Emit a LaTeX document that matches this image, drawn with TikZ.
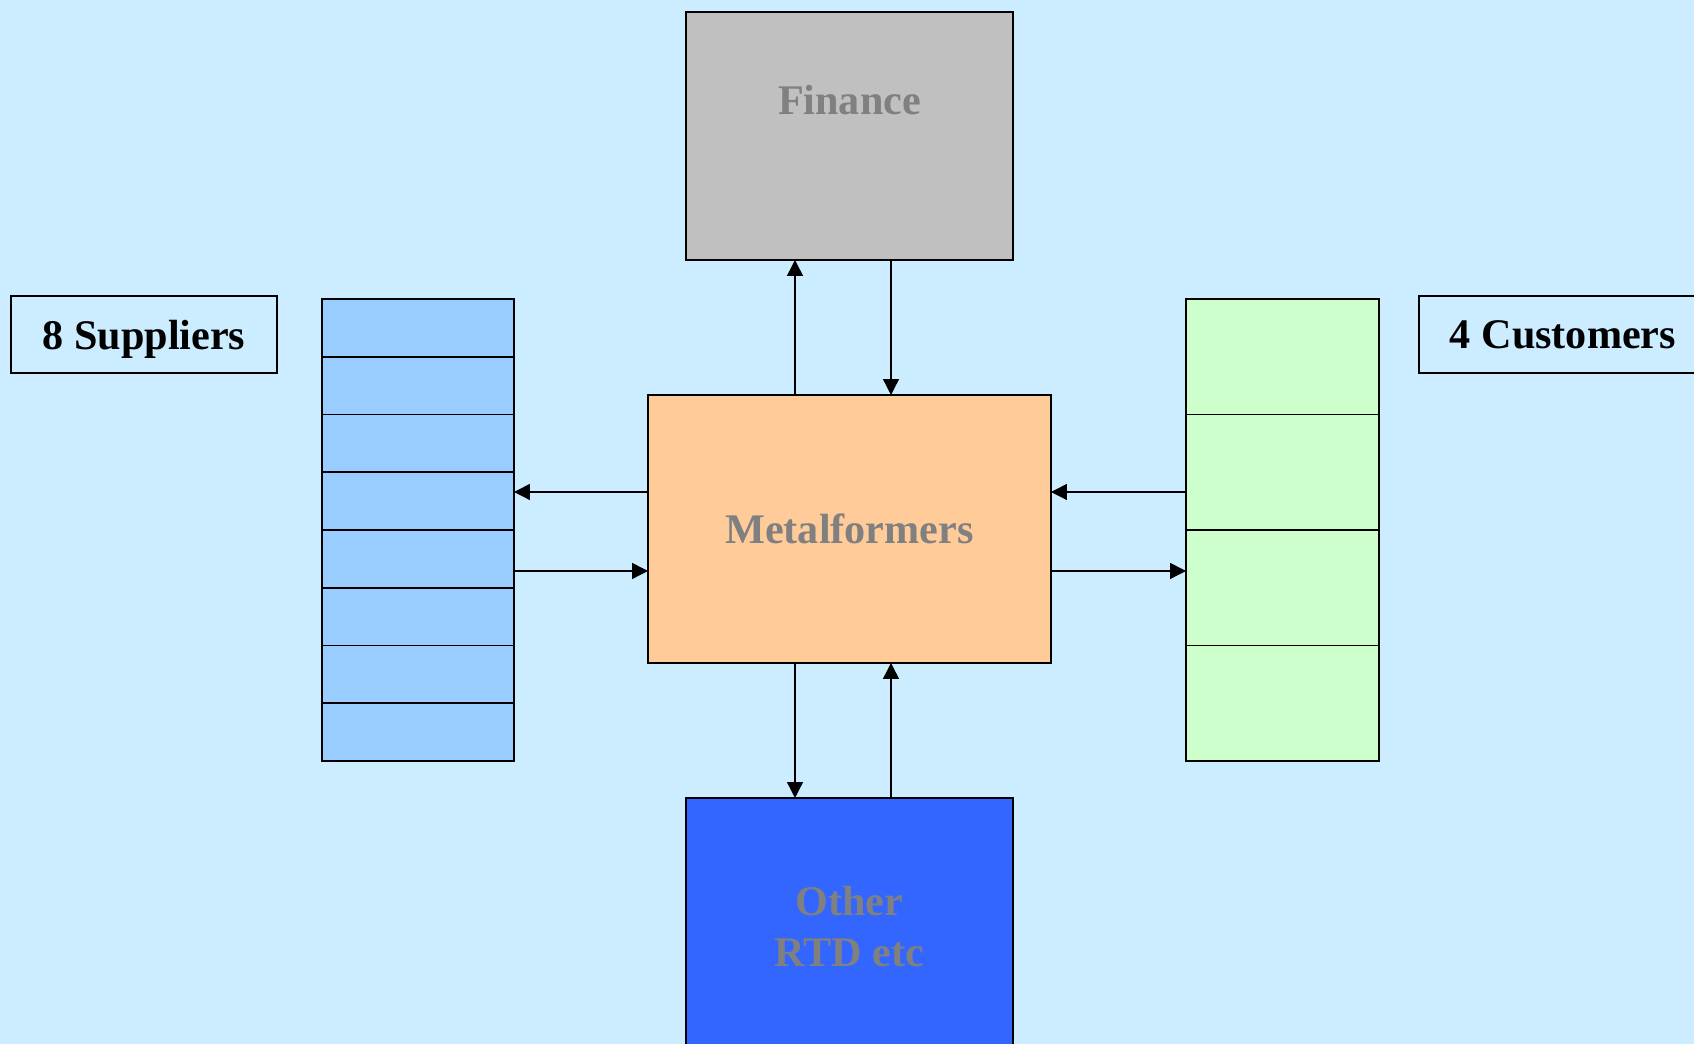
\documentclass[tikz,border=0pt]{standalone}
\usepackage{xcolor}
\usepackage{fontspec}
\setmainfont{Liberation Serif}
\usepackage{tikz}
\usetikzlibrary{arrows.meta,positioning,calc}

\definecolor{bgblue}{RGB}{204,236,255}
\definecolor{supblue}{RGB}{153,204,255}
\definecolor{cusgreen}{RGB}{204,255,204}
\definecolor{metalorange}{RGB}{255,204,153}
\definecolor{fingray}{RGB}{192,192,192}
\definecolor{othblue}{RGB}{51,102,255}
\definecolor{txtgray}{RGB}{128,128,128}

\begin{document}
\begin{tikzpicture}[
    box/.style={rectangle, draw=black, fill=#1, line width=1pt, inner sep=0pt, outer sep=0pt, align=center, font=\fontsize{24}{29}\selectfont\bfseries, text=txtgray},
    tag/.style={rectangle, draw=black, line width=1pt, inner sep=0pt, outer sep=0pt, minimum height=1.54cm, text depth=0pt, font=\fontsize{24}{29}\selectfont\bfseries},
    suprow/.style={rectangle, draw=black, fill=supblue, line width=1pt, inner sep=0pt, outer sep=0pt, minimum width=3.84cm, minimum height=1.155cm},
    cusrow/.style={rectangle, draw=black, fill=cusgreen, line width=1pt, inner sep=0pt, outer sep=0pt, minimum width=3.86cm, minimum height=2.31cm},
    arrow/.style={-{Triangle[length=9pt, width=9pt]}, line width=0.8pt}
]
    % Page
    \clip (0,0) rectangle (33.88,20.88);
    \fill[bgblue] (0,0) rectangle (33.88,20.88);

    % Centre and the two departments
    \node[box=metalorange, minimum width=8.06cm, minimum height=5.36cm] (metal) at (16.99,10.30) {Metalformers};

    \node[box=fingray, minimum width=6.54cm, text height=2.05cm, text depth=2.91cm, above=2.7cm of metal] (fin) {Finance};

    \node[box=othblue, minimum width=6.54cm, minimum height=5.14cm, below=2.7cm of metal] (oth) {Other\\RTD etc};

    % Supplier stack (8 rows)
    \node[suprow] (sup1) at (8.36,14.32) {};
    \foreach \i [remember=\i as \j (initially 1)] in {2,...,8}
        \node[suprow, below=0cm of sup\j] (sup\i) {};

    % Customer stack (4 rows)
    \node[cusrow] (cus1) at (25.65,13.745) {};
    \foreach \i [remember=\i as \j (initially 1)] in {2,...,4}
        \node[cusrow, below=0cm of cus\j] (cus\i) {};

    % Labels
    \node[tag, minimum width=5.32cm] (suptag) at (2.88,14.19) {8 Suppliers};
    \node[tag, minimum width=5.76cm] (custag) at (31.26,14.19) {4 Customers};

    % Arrows
    \draw[arrow] ([xshift=-1.09cm]metal.north) -- ([xshift=-1.09cm]metal.north |- fin.south);
    \draw[arrow] ([xshift=0.83cm]fin.south) -- ([xshift=0.83cm]fin.south |- metal.north);
    \draw[arrow] ([xshift=-1.09cm]metal.south) -- ([xshift=-1.09cm]metal.south |- oth.north);
    \draw[arrow] ([xshift=0.83cm]oth.north) -- ([xshift=0.83cm]oth.north |- metal.south);
    \draw[arrow] ([yshift=0.74cm]metal.west) -- ([yshift=0.74cm]metal.west -| sup1.east);
    \draw[arrow] ([yshift=-0.84cm]metal.west -| sup1.east) -- ([yshift=-0.84cm]metal.west);
    \draw[arrow] ([yshift=0.74cm]metal.east -| cus1.west) -- ([yshift=0.74cm]metal.east);
    \draw[arrow] ([yshift=-0.84cm]metal.east) -- ([yshift=-0.84cm]metal.east -| cus1.west);
\end{tikzpicture}
\end{document}
